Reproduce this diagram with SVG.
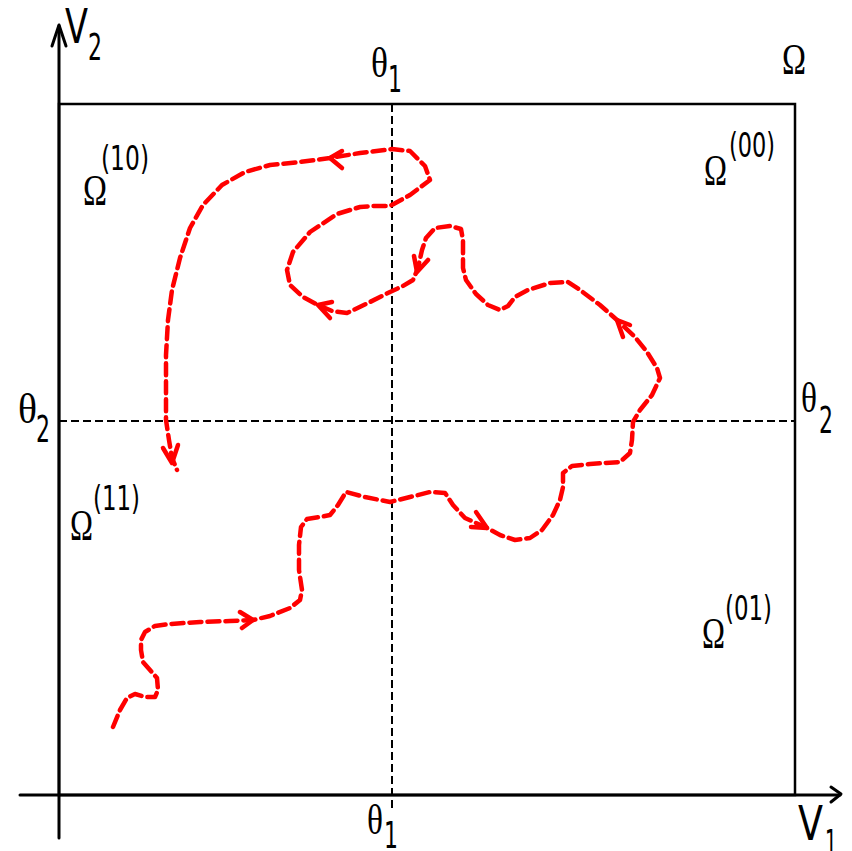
<svg xmlns="http://www.w3.org/2000/svg" width="852" height="851" viewBox="0 0 852 851">
<style>
.ax{fill:none;stroke:#000;stroke-width:3;stroke-linecap:round;stroke-linejoin:round}
.box{fill:none;stroke:#000;stroke-width:2.5}
.dash{fill:none;stroke:#000;stroke-width:2;stroke-dasharray:8 4}
.path{fill:none;stroke:#ff0000;stroke-width:4.5;stroke-dasharray:12 6;stroke-linecap:round;stroke-linejoin:round}
.arr{fill:none;stroke:#ff0000;stroke-width:4.5;stroke-linecap:round;stroke-linejoin:round}
.s{font-family:"DejaVu Sans","Liberation Sans",sans-serif;fill:#000}
.r{font-family:"Liberation Serif","DejaVu Serif",serif;fill:#000}
</style>
<rect width="852" height="851" fill="#fff"/>
<g id="frame">
<rect class="box" x="59" y="104" width="736" height="691"/>
<line class="dash" x1="392" y1="104" x2="392" y2="808"/>
<line class="dash" x1="59" y1="421" x2="795" y2="421"/>
</g>
<g id="axes">
<line class="ax" x1="59" y1="838" x2="59" y2="26"/>
<polyline class="ax" points="52,46 59,25 66,46"/>
<line class="ax" x1="20" y1="795" x2="840" y2="795"/>
<polyline class="ax" points="831,787 841,794 831,802"/>
</g>
<g id="labels">
<text class="s" x="65" y="43" font-size="48" textLength="23" lengthAdjust="spacingAndGlyphs">V</text>
<text class="s" x="88" y="60" font-size="38" textLength="14" lengthAdjust="spacingAndGlyphs">2</text>
<text class="r" x="371" y="77" font-size="42" textLength="17" lengthAdjust="spacingAndGlyphs">θ</text>
<text class="s" x="388" y="92" font-size="37" textLength="14" lengthAdjust="spacingAndGlyphs">1</text>
<text class="r" x="782" y="74" font-size="45" textLength="24" lengthAdjust="spacingAndGlyphs">Ω</text>
<text class="r" x="704" y="185" font-size="45" textLength="23" lengthAdjust="spacingAndGlyphs">Ω</text>
<text class="s" x="729" y="157" font-size="34" textLength="46" lengthAdjust="spacingAndGlyphs">(00)</text>
<text class="r" x="83" y="205" font-size="45" textLength="24" lengthAdjust="spacingAndGlyphs">Ω</text>
<text class="s" x="101" y="170" font-size="34" textLength="48" lengthAdjust="spacingAndGlyphs">(10)</text>
<text class="r" x="18" y="423" font-size="42" textLength="19" lengthAdjust="spacingAndGlyphs">θ</text>
<text class="s" x="36" y="442" font-size="38" textLength="14" lengthAdjust="spacingAndGlyphs">2</text>
<text class="r" x="801" y="412" font-size="42" textLength="16" lengthAdjust="spacingAndGlyphs">θ</text>
<text class="s" x="819" y="433" font-size="38" textLength="14" lengthAdjust="spacingAndGlyphs">2</text>
<text class="r" x="70" y="540" font-size="45" textLength="23" lengthAdjust="spacingAndGlyphs">Ω</text>
<text class="s" x="93" y="510" font-size="34" textLength="47" lengthAdjust="spacingAndGlyphs">(11)</text>
<text class="r" x="702" y="648" font-size="45" textLength="23" lengthAdjust="spacingAndGlyphs">Ω</text>
<text class="s" x="725" y="620" font-size="34" textLength="47" lengthAdjust="spacingAndGlyphs">(01)</text>
<text class="r" x="367" y="834" font-size="42" textLength="16" lengthAdjust="spacingAndGlyphs">θ</text>
<text class="s" x="384" y="848" font-size="37" textLength="14" lengthAdjust="spacingAndGlyphs">1</text>
<text class="s" x="798" y="840" font-size="48" textLength="25" lengthAdjust="spacingAndGlyphs">V</text>
<text class="s" x="825" y="856" font-size="38" textLength="12" lengthAdjust="spacingAndGlyphs">1</text>
</g>
<g id="connectors">
<polyline class="path" points="113,727 120,710 127,698 135,694 145,697 155,697 158,690 157,678 150,670 143,662 141,650 141,640 145,632 155,626 170,624 200,622 230,621 253,620 270,616 290,608 300,600 302,590 299,570 299,545 301,527 307,519 320,517 330,515 338,505 346,492 365,497 390,502 410,497 430,492 445,493 453,505 465,518 487,528 500,535 515,540 530,538 542,530 553,515 560,500 563,487 563,473 572,466 590,464 620,462 630,453 632,440 633,422 640,410 652,395 660,378 657,368 647,352 635,337 617,320 600,305 580,290 568,282 550,283 528,290 515,297 508,306 500,310 488,305 476,294 466,280 463,268 463,240 461,229 450,226 435,228 426,238 422,250 418,268 413,280 403,286 390,292 368,303 347,313 332,311 318,305 303,297 290,285 287,270 293,252 310,232 337,214 360,207 375,206 390,206 410,195 430,180 425,166 410,151 392,149 360,153 330,158 300,162 270,165 245,172 222,185 203,205 190,228 180,258 172,290 168,320 166,355 166,420 169,440 172,458 177,470"/>
<polyline class="arr" points="240,612 253,620 242,628"/>
<polyline class="arr" points="476,512 487,528 471,527"/>
<polyline class="arr" points="630,325 617,320 623,337"/>
<polyline class="arr" points="428,260 417,272 414,256"/>
<polyline class="arr" points="332,302 318,305 330,318"/>
<polyline class="arr" points="342,151 330,158 342,168"/>
<polyline class="arr" points="163,448 172,463 178,445"/>
</g>
</svg>
